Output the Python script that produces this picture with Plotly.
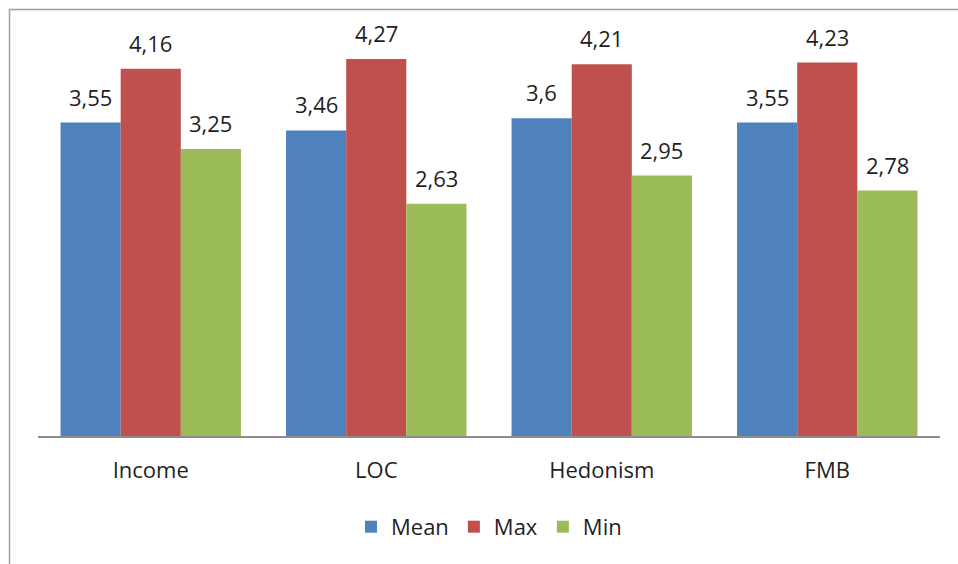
import plotly.graph_objects as go

categories = ["Income", "LOC", "Hedonism", "FMB"]
mean_vals = [3.55, 3.46, 3.60, 3.55]
max_vals = [4.16, 4.27, 4.21, 4.23]
min_vals = [3.25, 2.63, 2.95, 2.78]

series = [
    ("Mean", mean_vals, "#4F81BD"),
    ("Max", max_vals, "#C0504D"),
    ("Min", min_vals, "#9BBB59"),
]

FONT = "Open Sans, Lato, DejaVu Sans, sans-serif"
TXT = "#1F1F1F"

W, H = 958, 564
ML, MR, MB = 37.5, 18, 128
Y_MAX = 4.7
PX_PER_UNIT = 88.4
MT = H - MB - Y_MAX * PX_PER_UNIT
plot_w = W - ML - MR
plot_h = H - MT - MB

BARGAP = 0.2
n_series = len(series)
bar_w = (1 - BARGAP) / n_series


def fmt(v):
    return f"{v:g}".replace(".", ",")


fig = go.Figure()
annotations = []
for i, (name, vals, color) in enumerate(series):
    fig.add_trace(go.Bar(
        name=name, x=categories, y=vals,
        marker=dict(color=color, line=dict(width=0)),
    ))
    offset = (i - (n_series - 1) / 2) * bar_w
    for j, v in enumerate(vals):
        annotations.append(dict(
            x=j + offset, y=v, xref="x", yref="y",
            text=fmt(v), showarrow=False,
            yanchor="bottom", yshift=9,
            font=dict(family=FONT, size=22, color=TXT),
        ))


def px_to_paper_x(px):
    return (px - ML) / plot_w


def px_to_paper_y(py):
    return (H - MB - py) / plot_h


# outer chart frame (left and top edges visible, right/bottom run off the page)
shapes = [dict(
    type="rect", xref="paper", yref="paper",
    x0=px_to_paper_x(9), x1=px_to_paper_x(W + 5),
    y0=px_to_paper_y(H + 5), y1=px_to_paper_y(9),
    line=dict(color="#A0A0A0", width=1.5), fillcolor="rgba(0,0,0,0)",
    layer="below",
)]

fig.update_layout(
    width=W, height=H,
    margin=dict(l=ML, r=MR, t=MT, b=MB, pad=0),
    paper_bgcolor="white", plot_bgcolor="white",
    barmode="group", bargap=BARGAP, bargroupgap=0,
    font=dict(family=FONT, size=22, color=TXT),
    xaxis=dict(
        showline=True, linecolor="#8C8C8C", linewidth=1.5,
        ticks="outside", ticklen=14, tickcolor="rgba(0,0,0,0)",
        tickfont=dict(family=FONT, size=22, color=TXT),
        showgrid=False, zeroline=False, fixedrange=True,
    ),
    yaxis=dict(
        range=[0, Y_MAX], visible=False, showgrid=False, zeroline=False,
        fixedrange=True,
    ),
    showlegend=True,
    legend=dict(
        orientation="h", x=0.5, xanchor="center",
        y=px_to_paper_y(527), yanchor="middle",
        font=dict(family=FONT, size=22, color=TXT),
        bgcolor="rgba(0,0,0,0)", itemclick=False,
    ),
    annotations=annotations,
    shapes=shapes,
)

fig.write_html("out.html")
